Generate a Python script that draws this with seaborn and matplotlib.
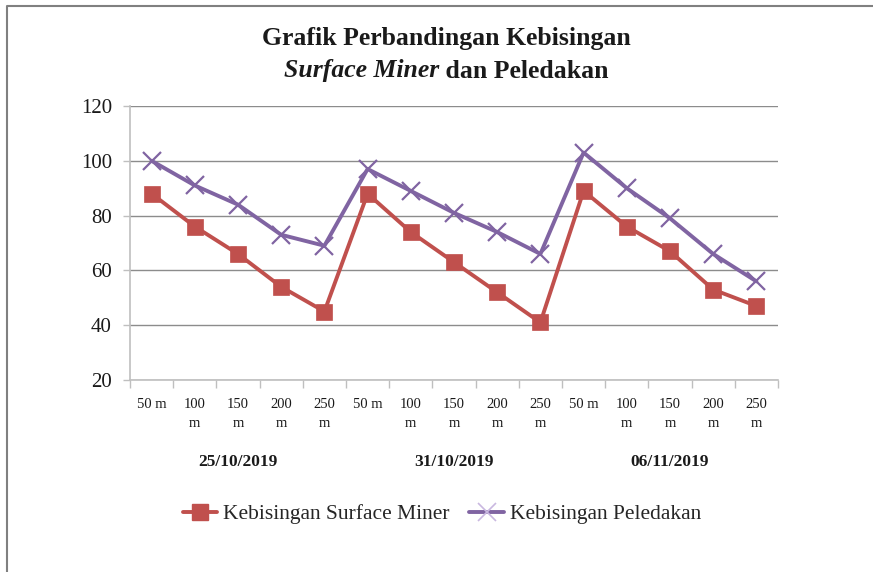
import numpy as np
import pandas as pd
import matplotlib
matplotlib.use("Agg")
import matplotlib.pyplot as plt
import matplotlib.transforms as mtransforms
from matplotlib.lines import Line2D
import seaborn as sns

# ---- data ----
dates = ["25/10/2019", "31/10/2019", "06/11/2019"]
distances = ["50 m", "100 m", "150 m", "200 m", "250 m"]
tick_labels = ["50 m", "100\nm", "150\nm", "200\nm", "250\nm"] * 3
surface_miner = [88, 76, 66, 54, 45, 88, 74, 63, 52, 41, 89, 76, 67, 53, 47]
peledakan = [100, 91, 84, 73, 69, 97, 89, 81, 74, 66, 103, 90, 79, 66, 56]
series_names = ["Kebisingan Surface Miner", "Kebisingan Peledakan"]
colors = ["#C0504D", "#8064A2"]

n = len(surface_miner)
pos = list(range(n))
df_sm = pd.DataFrame({"pos": pos, "value": surface_miner})
df_pl = pd.DataFrame({"pos": pos, "value": peledakan})

sns.set_theme(style="white")
plt.rcParams["font.family"] = ["Liberation Serif", "DejaVu Serif"]

fig = plt.figure(figsize=(8.73, 5.72), dpi=100)
ax = fig.add_axes([130 / 873, 1 - 380 / 572, 648 / 873, 274 / 572])

sns.lineplot(data=df_sm, x="pos", y="value", color=colors[0], marker="s",
             linewidth=2.8, markersize=11, mec=colors[0], mew=0.5, ax=ax)
sns.lineplot(data=df_pl, x="pos", y="value", color=colors[1], marker="x",
             linewidth=2.8, markersize=13, mec=colors[1], mew=1.6, ax=ax)

ax.set_xlim(-0.5, n - 0.5)
ax.set_ylim(20, 120)
ax.set_yticks(np.arange(20, 121, 20))
ax.set_xticks(pos)
ax.set_xticklabels(tick_labels, fontsize=10.5, linespacing=1.6, va="top")
ax.set_xticks(np.arange(-0.5, n, 1), minor=True)
ax.tick_params(axis="x", which="major", length=0, pad=13, colors="#1a1a1a")
ax.tick_params(axis="x", which="minor", length=6, width=1, color="#BFBFBF", direction="out", bottom=True)
ax.tick_params(axis="y", which="major", length=5, width=1, color="#BFBFBF", direction="out",
               left=True, pad=8, labelsize=15, labelcolor="#1a1a1a")
ax.set_xlabel("")
ax.set_ylabel("")

ax.grid(axis="y", color="#8C8C8C", linewidth=1)
ax.grid(axis="x", visible=False)
ax.set_axisbelow(True)
for s in ["top", "right"]:
    ax.spines[s].set_visible(False)
for s in ["left", "bottom"]:
    ax.spines[s].set_color("#BFBFBF")
    ax.spines[s].set_linewidth(1.2)

# group labels
trans = mtransforms.blended_transform_factory(ax.transData, ax.transAxes)
for i, d in enumerate(dates):
    ax.text(i * 5 + 2, -0.30, d, transform=trans, ha="center", va="center",
            fontsize=12.5, fontweight="bold", color="#1a1a1a")

# title
fig.text(446 / 873, 1 - 39 / 572, "Grafik Perbandingan Kebisingan", ha="center", va="center",
         fontsize=18.5, fontweight="bold", color="#1a1a1a")
fig.canvas.draw()
r = fig.canvas.get_renderer()
t1 = fig.text(0, 1 - 71 / 572, "Surface Miner", ha="left", va="center", fontsize=18.5,
              fontweight="bold", fontstyle="italic", color="#1a1a1a")
t2 = fig.text(0, 1 - 71 / 572, " dan Peledakan", ha="left", va="center", fontsize=18.5,
              fontweight="bold", color="#1a1a1a")
w1 = t1.get_window_extent(r).width
w2 = t2.get_window_extent(r).width
x0 = 446 - (w1 + w2) / 2
t1.set_x(x0 / 873)
t2.set_x((x0 + w1) / 873)

# legend
handles = [Line2D([], [], color=colors[0], lw=2.8, marker="s", markersize=11, mec=colors[0]),
           Line2D([], [], color=colors[1], lw=2.8, marker="x", markersize=13, mew=1.2,
                  mec="#C9B8E0")]
fig.legend(handles, series_names, loc="center", bbox_to_anchor=(442 / 873, 1 - 514 / 572),
           ncol=2, frameon=False, fontsize=15.5, handlelength=1.6, handletextpad=0.3,
           columnspacing=0.9)

# outer border (left and top)
fig.add_artist(Line2D([7 / 873, 7 / 873, 1.0], [0, 1 - 6 / 572, 1 - 6 / 572],
                      transform=fig.transFigure, color="#808080", lw=1.5))

fig.savefig("out.png", dpi=100)
